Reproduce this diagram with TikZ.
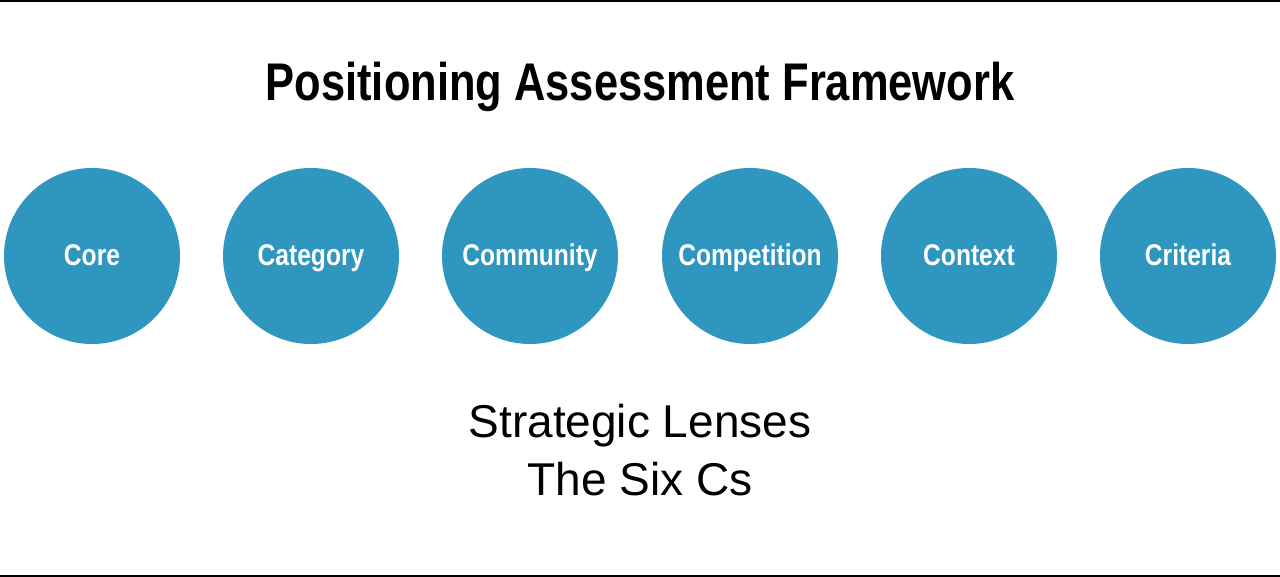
\documentclass[tikz,border=0pt]{standalone}
\usepackage{fontspec}
\setmainfont{Liberation Sans}
\newfontfamily\condbold[FakeStretch=0.82]{Liberation Sans Bold}
\definecolor{lensblue}{HTML}{2E96BF}
\begin{document}
\begin{tikzpicture}[x=1pt,y=-1pt,
  lens/.style={circle,fill=lensblue,draw=none,minimum size=176pt,inner sep=0pt},
  lenslabel/.style={anchor=base,text=white,font=\condbold\fontsize{30}{36}\selectfont,inner sep=0pt},
  titlestyle/.style={anchor=base,font=\condbold\fontsize{53}{60}\selectfont,inner sep=0pt},
  substyle/.style={anchor=base,font=\fontsize{46}{55}\selectfont,inner sep=0pt},
  rule/.style={line width=2pt,black}]
\useasboundingbox (0,0) rectangle (1280,576);
\fill[white] (0,0) rectangle (1280,576);
\coordinate (tl) at (0,0.5);
\coordinate (tr) at (1280,0.5);
\coordinate (bl) at (0,575.5);
\coordinate (br) at (1280,575.5);
\draw[rule] (tl) -- (tr);
\draw[rule] (bl) -- (br);
\node[titlestyle] (title) at (640,100) {Positioning Assessment Framework};
\foreach \n/\x/\t in {c1/92/Core,c2/311/Category,c3/530/Community,c4/750/Competition,c5/969/Context,c6/1188/Criteria}{
  \node[lens] (\n) at (\x,256) {};
  \node[lenslabel] (\n l) at (\x,265) {\t};
}
\node[substyle] (sub1) at (640,437) {Strategic Lenses};
\node[substyle] (sub2) at (640,495) {The Six Cs};
\end{tikzpicture}
\end{document}
